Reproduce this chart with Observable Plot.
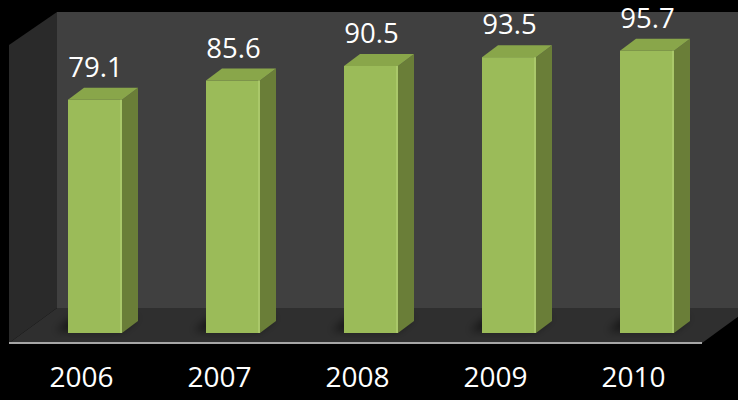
<!DOCTYPE html>
<html><head><meta charset="utf-8">
<script src="https://cdn.jsdelivr.net/npm/d3@7"></script>
<script src="https://cdn.jsdelivr.net/npm/@observablehq/plot@0.6"></script>
<style>html,body{margin:0;padding:0;background:#000}</style>
</head><body><div id="chart"></div>
<script>
const years = ["2006", "2007", "2008", "2009", "2010"];
const values = [79.1, 85.6, 90.5, 93.5, 95.7];
const data = years.map((year, i) => ({year, value: values[i]}));

const W = 738, H = 400;
const chart = Plot.plot({
  width: W, height: H,
  marginTop: 12, marginBottom: 67, marginLeft: 25.5, marginRight: 22.5,
  style: {background: "#000", fontFamily: "'Open Sans', sans-serif"},
  x: {domain: years, paddingInner: 0.609, paddingOuter: 0.3045, axis: null},
  y: {domain: [0, 108.8], axis: null},
  marks: [
    Plot.barY(data, {x: "year", y: "value", fill: "#9bbb59"}),
    Plot.text(data, {x: "year", y: "value", text: d => d.value.toFixed(1), dy: -32, fill: "#fff", fontSize: 27.5}),
    Plot.text(data, {x: "year", frameAnchor: "bottom", text: "year", dx: -14, dy: 53, fill: "#fff", fontSize: 28})
  ]
});
document.getElementById("chart").append(chart);

const xs = chart.scale("x"), ys = chart.scale("y");
const bw = xs.bandwidth;
const y0 = ys.apply(0);
const ddx = 16, ddy = -12;
const svg = d3.select(chart);
const ns = "http://www.w3.org/2000/svg";

const defs = svg.insert("defs", ":first-child");
defs.append("filter").attr("id", "blur").attr("x", "-50%").attr("y", "-50%").attr("width", "200%").attr("height", "200%")
  .append("feGaussianBlur").attr("stdDeviation", 4);

// walls / floor behind everything
const walls = svg.insert("g", "defs + *");
const fl = 9, bl = 57, fy = y0 + 10, by = y0 - 25, wallTop = ys.apply(108.8);
const poly = (g, pts, fill) => g.append("polygon").attr("points", pts.map(p => p.join(",")).join(" ")).attr("fill", fill);
poly(walls, [[bl, wallTop], [W, wallTop], [W, by], [bl, by]], "#404040");
poly(walls, [[fl, wallTop + 33], [bl, wallTop], [bl, by], [fl, fy]], "#2a2a2a");
poly(walls, [[fl, fy], [bl, by], [W + 12, by], [702, fy]], "#2f2f2f");
walls.append("line").attr("x1", fl).attr("x2", 702).attr("y1", fy).attr("y2", fy).attr("stroke", "#a6a6a6").attr("stroke-width", 2);

// soft floor shadows
const sh = walls.append("g").attr("filter", "url(#blur)");
data.forEach(d => {
  const xl = xs.apply(d.year), xr = xl + bw;
  poly(sh, [[xl - 12, y0 - 2], [xl + 4, y0 - 16], [xr + ddx, y0 - 16], [xr, y0 - 2]], "rgba(0,0,0,0.55)");
});

// 3D faces after bars
const barG = chart.querySelector('g[aria-label="bar"]');
const faces = document.createElementNS(ns, "g");
barG.after(faces);
const fg = d3.select(faces);
data.forEach(d => {
  const xl = xs.apply(d.year), xr = xl + bw, yv = ys.apply(d.value);
  poly(fg, [[xr, y0], [xr + ddx, y0 + ddy], [xr + ddx, yv + ddy], [xr, yv]], "#6a7e38");
  poly(fg, [[xl, yv], [xl + ddx, yv + ddy], [xr + ddx, yv + ddy], [xr, yv]], "#89a64a");
  fg.append("line").attr("x1", xr - 1).attr("x2", xr - 1).attr("y1", yv).attr("y2", y0).attr("stroke", "#afcc70").attr("stroke-width", 1.5);
});
</script>
</body></html>
